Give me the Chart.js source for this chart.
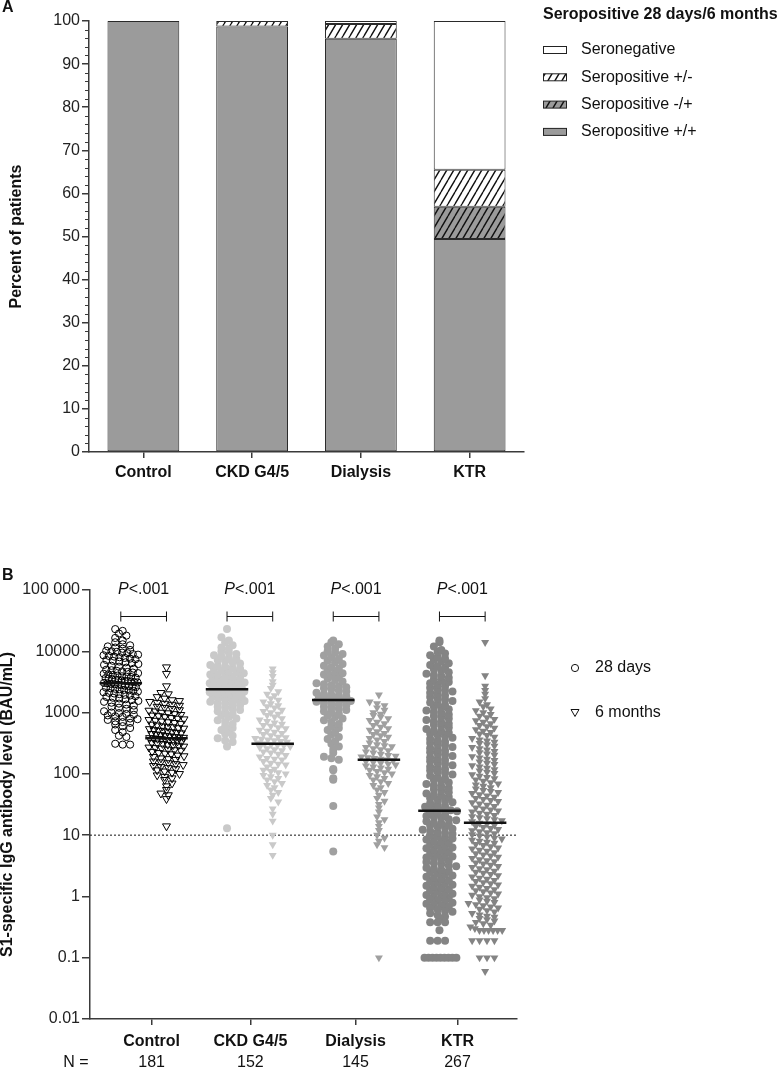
<!DOCTYPE html>
<html>
<head>
<meta charset="utf-8">
<script src="https://cdn.jsdelivr.net/npm/chart.js@4.4.0/dist/chart.umd.min.js"></script>
<style>
  body { margin: 0; background: #fff; }
  #chartA { position: absolute; left: 0; top: 0; }
  #chartB { position: absolute; left: 0; top: 500px; }
</style>
</head>
<body>
<canvas id="chartA" width="777" height="500"></canvas>
<canvas id="chartB" width="777" height="570"></canvas>
<script>
"use strict";

// ---- panel A data (percent of patients) ----
var groups = ['Control', 'CKD G4/5', 'Dialysis', 'KTR'];
var posPos = [100, 98.7, 95.9, 49.4];   // seropositive +/+
var negPos = [0, 0, 0, 7.5];            // seropositive -/+
var posNeg = [0, 1.3, 3.4, 8.6];        // seropositive +/-
var seroNeg = [0, 0, 0.7, 34.5];        // seronegative
var legendTitleA = 'Seropositive 28 days/6 months';

// ---- panel B data (S1-specific IgG, BAU/mL) ----
var nCounts = [181, 152, 145, 267];
var medians28 = [3000, 2400, 1600, 25];
var medians6 = [380, 310, 170, 16];
var cutoff = 10;
var pLabels = ['<.001', '<.001', '<.001', '<.001'];
var yTickVals = [0.01, 0.1, 1, 10, 100, 1000, 10000, 100000];
var yTickLabels = ['0.01', '0.1', '1', '10', '100', '1000', '10000', '100 000'];

var ctl28 = [23000, 21500, 19500, 18000, 16500, 15000, 14000, 13000, 12500, 12000, 11500, 11000, 10500, 10200, 10000,
  9800, 9500, 9300, 9000, 8800, 8600, 8400, 8200, 8000, 7800, 7600, 7400, 7200, 7000, 6800, 6600, 6400, 6200, 6000,
  5800, 5600, 5400, 5200, 5000, 4900, 4800, 4700, 4600, 4500, 4400, 4300, 4200, 4100, 4000, 3900, 3850, 3800, 3700,
  3650, 3600, 3500, 3450, 3400, 3350, 3300, 3250, 3200, 3150, 3100, 3050, 3000, 2950, 2900, 2850, 2800, 2750, 2700,
  2650, 2600, 2550, 2500, 2450, 2400, 2350, 2300, 2250, 2200, 2150, 2100, 2050, 2000, 1950, 1900, 1850, 1800, 1750,
  1700, 1650, 1600, 1550, 1500, 1450, 1400, 1350, 1300, 1250, 1200, 1150, 1100, 1050, 1000, 980, 950, 920, 900, 870,
  850, 800, 780, 760, 720, 700, 680, 640, 600, 560, 520, 480, 420, 400, 310, 300, 300];
var ctl6 = [5500, 4300, 2700, 2100, 2000, 1800, 1700, 1600, 1550, 1500, 1450, 1400, 1350, 1300, 1250, 1200, 1150, 1100,
  1080, 1050, 1000, 980, 950, 920, 900, 880, 850, 820, 800, 780, 760, 740, 720, 700, 680, 660, 640, 620, 600, 590, 580,
  560, 550, 540, 520, 510, 500, 490, 480, 470, 460, 450, 440, 430, 420, 410, 400, 395, 390, 385, 380, 375, 370, 360,
  350, 345, 340, 330, 320, 315, 310, 300, 295, 290, 280, 270, 265, 260, 250, 245, 240, 230, 220, 215, 210, 200, 195,
  190, 180, 175, 170, 160, 155, 150, 145, 140, 135, 130, 125, 120, 115, 110, 105, 100, 95, 90, 85, 80, 70, 63, 55, 48,
  45, 39, 14];
var ckd28 = [23000, 17000, 15000, 14000, 12500, 11500, 11000, 10000, 9500, 9000, 8600, 8200, 7800, 7500, 7200, 6900,
  6600, 6300, 6000, 5800, 5600, 5400, 5200, 5000, 4800, 4700, 4500, 4400, 4200, 4100, 3900, 3800, 3700, 3600, 3500,
  3400, 3300, 3200, 3100, 3000, 2900, 2850, 2800, 2700, 2650, 2600, 2500, 2450, 2400, 2350, 2300, 2250, 2200, 2150,
  2100, 2050, 2000, 1950, 1900, 1850, 1800, 1750, 1700, 1650, 1600, 1550, 1500, 1450, 1400, 1350, 1300, 1250, 1200,
  1150, 1100, 1050, 1000, 950, 900, 850, 800, 750, 700, 650, 600, 560, 520, 480, 450, 420, 380, 350, 330, 280, 13];
var ckd6 = [5200, 4500, 3900, 3200, 2800, 2500, 2200, 2000, 1900, 1700, 1600, 1500, 1400, 1300, 1250, 1200, 1100, 1050,
  1000, 950, 900, 850, 800, 760, 720, 680, 650, 620, 600, 570, 550, 520, 500, 480, 460, 440, 420, 400, 390, 380, 370,
  360, 350, 340, 330, 320, 310, 300, 295, 290, 280, 270, 260, 250, 240, 230, 220, 210, 200, 190, 180, 175, 170, 160,
  150, 145, 140, 130, 120, 115, 110, 105, 100, 95, 90, 85, 80, 75, 70, 65, 60, 55, 50, 45, 40, 35, 27, 22, 17, 10, 7,
  4.7];
var dia28 = [15000, 14000, 13000, 12000, 11000, 10000, 9500, 9000, 8500, 8000, 7500, 7000, 6600, 6200, 5800, 5500, 5200,
  4900, 4600, 4400, 4200, 4000, 3800, 3600, 3400, 3200, 3000, 2900, 2800, 2700, 2600, 2500, 2400, 2300, 2200, 2100,
  2000, 1950, 1900, 1850, 1800, 1750, 1700, 1650, 1600, 1550, 1500, 1450, 1400, 1350, 1300, 1250, 1200, 1150, 1100,
  1050, 1000, 950, 900, 850, 800, 750, 700, 650, 600, 560, 520, 480, 440, 400, 370, 340, 310, 280, 250, 220, 190, 180,
  170, 120, 115, 85, 80, 30, 5.4];
var dia6 = [1950, 1500, 1400, 1300, 1200, 1100, 1000, 950, 900, 850, 800, 750, 700, 660, 620, 580, 550, 520, 490, 460,
  440, 420, 400, 380, 360, 340, 320, 300, 290, 280, 270, 260, 250, 240, 230, 220, 210, 200, 195, 190, 185, 180, 175,
  170, 165, 160, 155, 150, 145, 140, 135, 130, 125, 120, 115, 110, 105, 100, 95, 90, 85, 80, 75, 70, 65, 60, 55, 50, 45,
  40, 36, 32, 28, 24, 20, 18, 16, 14, 12, 10, 9, 8, 7, 6.3, 0.1];
var ktr28 = [15000, 14000, 12000, 10500, 9800, 9200, 8600, 8100, 7600, 7200, 6800, 6400, 6000, 5700, 5400, 5100, 4800,
  4550, 4300, 4100, 3900, 3700, 3500, 3300, 3150, 3000, 2850, 2700, 2550, 2400, 2300, 2200, 2100, 2000, 1900, 1800,
  1700, 1620, 1540, 1460, 1390, 1320, 1250, 1190, 1130, 1080, 1030, 980, 930, 880, 840, 800, 760, 720, 690, 660, 630,
  600, 570, 540, 510, 490, 470, 450, 430, 410, 390, 370, 350, 335, 320, 305, 290, 275, 262, 250, 238, 226, 215, 205,
  195, 185, 176, 168, 160, 152, 145, 138, 131, 125, 119, 113, 108, 103, 98, 93, 88, 84, 80, 76, 72, 68, 65, 62, 59, 56,
  53, 50, 48, 46, 44, 42, 40, 38, 36, 34.5, 33, 31.5, 30, 29, 28, 27, 26, 25.5,
  24.5, 23.5, 22.5, 21.5, 20.5, 19.7, 19, 18.2, 17.5, 16.8, 16.1, 15.5, 14.9, 14.3, 13.7, 13.2, 12.7, 12.2, 11.7, 11.2,
  10.8, 10.4, 10, 9.6, 9.2, 8.8, 8.5, 8.1, 7.8, 7.5, 7.2, 6.9, 6.6, 6.3, 6.1, 5.8, 5.6, 5.4, 5.1, 4.9, 4.7, 4.5, 4.3,
  4.15, 4, 3.8, 3.65, 3.5, 3.35, 3.2, 3.1, 2.95, 2.85, 2.7, 2.6, 2.5, 2.4, 2.3, 2.2, 2.1, 2, 1.92, 1.84, 1.76, 1.69,
  1.62, 1.55, 1.49, 1.43, 1.37, 1.31, 1.26, 1.21, 1.16, 1.11, 1.06, 1.02, 0.98, 0.94, 0.9, 0.86, 0.83, 0.79, 0.76, 0.73,
  0.7, 0.67, 0.64, 0.61, 0.58, 0.56, 0.53, 0.5, 0.47, 0.44, 0.38, 0.38, 0.38, 0.28, 0.19, 0.19, 0.19, 0.1, 0.1, 0.1,
  0.1, 0.1, 0.1, 0.1, 0.1, 0.1];
var ktr6 = [14000, 4000, 2700, 2300, 2000, 1700, 1500, 1350, 1250, 1150, 1080, 1000, 940, 880, 830, 780, 740, 700, 660,
  620, 590, 560, 530, 500, 475, 450, 425, 400, 380, 360, 345, 330, 315, 300, 285, 270, 258, 246, 234, 222, 212, 202,
  192, 183, 174, 166, 158, 150, 143, 136, 130, 124, 118, 112, 107, 102, 97, 92, 88, 84, 80, 76, 72, 69, 66, 63, 60, 57,
  54, 52, 50, 48, 46, 44, 42, 40, 38.5, 37, 35.5, 34, 32.5, 31, 29.5, 28, 27, 26, 25, 24, 23, 22, 21, 20.2, 19.4, 18.7,
  18, 17.3, 16.6, 15.8, 15.2, 14.6, 14, 13.4, 12.9, 12.4, 11.9, 11.4, 11, 10.6, 10.2, 9.8, 9.4, 9, 8.7, 8.3, 8, 7.7,
  7.4, 7.1, 6.8, 6.5, 6.2, 6, 5.7, 5.5, 5.2, 5, 4.8, 4.6, 4.4, 4.2, 4, 3.85, 3.7, 3.55, 3.4, 3.25, 3.1, 3, 2.85, 2.75,
  2.6, 2.5, 2.4, 2.3, 2.2, 2.1, 2, 1.92, 1.84, 1.76, 1.69, 1.62, 1.55, 1.48, 1.42, 1.36, 1.3, 1.25, 1.2, 1.15, 1.1,
  1.05, 1, 0.96, 0.92, 0.88, 0.84, 0.8, 0.77, 0.74, 0.71, 0.68, 0.65, 0.62, 0.59, 0.56, 0.53, 0.5, 0.48, 0.46, 0.44,
  0.42, 0.4, 0.38, 0.36, 0.34, 0.32, 0.3, 0.28, 0.28, 0.28, 0.28, 0.28, 0.28, 0.19, 0.19, 0.19, 0.19, 0.1, 0.1, 0.1,
  0.06];

// ---- layout / style ----
var fam = "'Liberation Sans', Arial, sans-serif";
Chart.defaults.font.family = fam;
Chart.defaults.color = '#111';
var axisColor = '#3a3a3a';
var barGray = '#9b9b9b';
var catPos = [0.58, 1.51, 2.5, 3.46];   // x of the group labels
var colOffset = [0.29, 0.72];         // x of the two columns inside a group
var groupColors = ['#000000', '#c9c9c9', '#a0a0a0', '#848484'];

function hatch(bg) {
  var c = document.createElement('canvas');
  c.width = 7; c.height = 12;
  var x = c.getContext('2d');
  x.fillStyle = bg;
  x.fillRect(0, 0, 7, 12);
  x.strokeStyle = '#111';
  x.lineWidth = 1.4;
  x.beginPath();
  for (var k = -1; k <= 1; k++) {
    x.moveTo(k * 7, 12);
    x.lineTo(k * 7 + 7, 0);
  }
  x.stroke();
  return x.createPattern(c, 'repeat');
}

// spread points of one column sideways, GraphPad style rows
function swarm(values, center) {
  var rows = {};
  values.forEach(function (v) {
    var k = Math.round(Math.log10(v) / 0.075);
    (rows[k] = rows[k] || []).push(v);
  });
  var pts = [];
  Object.keys(rows).forEach(function (k) {
    var r = rows[k], n = r.length;
    var step = n > 1 ? Math.min(0.07, 0.3 / (n - 1)) : 0;
    var shift = (n > 1 && Math.abs(k % 2) === 1) ? step / 2 : 0;
    r.forEach(function (v, i) {
      pts.push({ x: center + (i - (n - 1) / 2) * step + shift - step / 4, y: v });
    });
  });
  return pts;
}

// ---------------- panel A ----------------
var panelAExtras = {
  id: 'panelAExtras',
  afterDraw: function (chart) {
    var ctx = chart.ctx, y = chart.scales.y;
    ctx.save();
    ctx.strokeStyle = axisColor;
    ctx.lineWidth = 1;
    for (var v = 0; v <= 100; v += 2) {
      if (v % 10 === 0) continue;
      var py = Math.round(y.getPixelForValue(v)) + 0.5;
      ctx.beginPath();
      ctx.moveTo(y.right - 4, py);
      ctx.lineTo(y.right, py);
      ctx.stroke();
    }
    ctx.fillStyle = '#111';
    ctx.textBaseline = 'middle';
    ctx.textAlign = 'left';
    ctx.font = 'bold 16px ' + fam;
    ctx.fillText('A', 2, 8);
    ctx.fillText(legendTitleA, 543, 15);
    ctx.font = '16px ' + fam;
    var items = chart.data.datasets.slice().reverse();
    items.forEach(function (ds, i) {
      var ly = 50 + i * 27.3;
      ctx.fillStyle = ds.backgroundColor;
      ctx.fillRect(543, ly - 3.5, 23, 7);
      ctx.strokeStyle = '#222';
      ctx.strokeRect(543.5, ly - 3.5, 23, 7);
      ctx.fillStyle = '#111';
      ctx.fillText(ds.label, 581, ly);
    });
    ctx.restore();
  }
};

new Chart(document.getElementById('chartA'), {
  type: 'bar',
  data: {
    labels: groups,
    datasets: [
      { label: 'Seropositive +/+', data: posPos, backgroundColor: barGray },
      { label: 'Seropositive -/+', data: negPos, backgroundColor: hatch(barGray) },
      { label: 'Seropositive +/-', data: posNeg, backgroundColor: hatch('#ffffff') },
      { label: 'Seronegative', data: seroNeg, backgroundColor: '#ffffff' }
    ]
  },
  options: {
    responsive: false,
    animation: false,
    devicePixelRatio: 1,
    events: [],
    layout: { padding: { top: 21, right: 253, left: 0, bottom: 0 } },
    datasets: { bar: { borderColor: '#2a2a2a', borderWidth: 1, borderSkipped: false, barPercentage: 0.66, categoryPercentage: 1 } },
    plugins: { legend: { display: false }, tooltip: { enabled: false } },
    scales: {
      x: {
        stacked: true,
        grid: { drawOnChartArea: false, offset: false, tickLength: 6, color: axisColor, lineWidth: 1.5 },
        border: { color: axisColor, width: 1.5 },
        ticks: { font: { size: 16, weight: 'bold' }, color: '#111', padding: 5, maxRotation: 0 },
        afterFit: function (s) { s.height = 48; }
      },
      y: {
        stacked: true, min: 0, max: 100,
        ticks: { stepSize: 10, font: { size: 16 }, color: '#222', padding: 2 },
        grid: { drawOnChartArea: false, tickLength: 7, color: axisColor, lineWidth: 1.5 },
        border: { color: axisColor, width: 1.5 },
        title: { display: true, text: 'Percent of patients', font: { size: 16, weight: 'bold', lineHeight: 1 }, padding: { top: 9, bottom: 0 }, color: '#111' },
        afterFit: function (s) { s.width = 89; }
      }
    }
  },
  plugins: [panelAExtras]
});

// ---------------- panel B ----------------
var series = [ctl28, ctl6, ckd28, ckd6, dia28, dia6, ktr28, ktr6];
var datasetsB = [];
series.forEach(function (vals, i) {
  var g = Math.floor(i / 2), c = i % 2;
  var col = groupColors[g];
  var open = g === 0;
  datasetsB.push({
    type: 'scatter',
    data: swarm(vals, g + colOffset[c]),
    pointStyle: c === 0 ? 'circle' : 'triangle',
    pointRotation: c === 0 ? 0 : 180,
    pointRadius: c === 0 ? (open ? 3.6 : 4) : 4.6,
    pointBackgroundColor: open ? 'rgba(0,0,0,0)' : col,
    pointBorderColor: col,
    pointBorderWidth: open ? 1 : 0,
    order: 2
  });
});
groups.forEach(function (gname, g) {
  [medians28[g], medians6[g]].forEach(function (m, c) {
    var cx = g + colOffset[c];
    datasetsB.push({
      type: 'line',
      data: [{ x: cx - 0.2, y: m }, { x: cx + 0.2, y: m }],
      borderColor: '#111', borderWidth: 2.5, pointRadius: 0, order: 0
    });
  });
});
datasetsB.push({
  type: 'line',
  data: [{ x: 0, y: cutoff }, { x: 4.02, y: cutoff }],
  borderColor: '#111', borderWidth: 1, borderDash: [2, 2], pointRadius: 0, order: 3
});

var panelBExtras = {
  id: 'panelBExtras',
  afterDraw: function (chart) {
    var ctx = chart.ctx, xs = chart.scales.x, ys = chart.scales.y, area = chart.chartArea;
    ctx.save();
    ctx.fillStyle = '#111';
    ctx.strokeStyle = '#111';
    ctx.lineWidth = 1;
    ctx.textBaseline = 'middle';
    var by = Math.round(ys.getPixelForValue(37000)) + 0.5;
    var ty = ys.getPixelForValue(100000);
    for (var g = 0; g < groups.length; g++) {
      var x1 = xs.getPixelForValue(g + colOffset[0]);
      var x2 = xs.getPixelForValue(g + colOffset[1]);
      ctx.beginPath();
      ctx.moveTo(x1, by); ctx.lineTo(x2, by);
      ctx.moveTo(x1, by - 5); ctx.lineTo(x1, by + 5);
      ctx.moveTo(x2, by - 5); ctx.lineTo(x2, by + 5);
      ctx.stroke();
      ctx.font = 'italic 16px ' + fam;
      var wP = ctx.measureText('P').width;
      ctx.font = '16px ' + fam;
      var wR = ctx.measureText(pLabels[g]).width;
      var sx = (x1 + x2) / 2 - (wP + wR) / 2;
      ctx.textAlign = 'left';
      ctx.font = 'italic 16px ' + fam;
      ctx.fillText('P', sx, ty);
      ctx.font = '16px ' + fam;
      ctx.fillText(pLabels[g], sx + wP, ty);
    }
    // N row
    ctx.textAlign = 'center';
    ctx.font = '16px ' + fam;
    ctx.fillText('N =', 76, area.bottom + 44);
    nCounts.forEach(function (n, i) {
      ctx.fillText(String(n), xs.getPixelForValue(catPos[i]), area.bottom + 44);
    });
    // legend
    ctx.textAlign = 'left';
    ctx.beginPath();
    ctx.arc(575, 168, 3.6, 0, Math.PI * 2);
    ctx.stroke();
    ctx.beginPath();
    ctx.moveTo(571, 209.5); ctx.lineTo(579, 209.5); ctx.lineTo(575, 216.5); ctx.closePath();
    ctx.stroke();
    ctx.fillText('28 days', 595, 168);
    ctx.fillText('6 months', 595, 213);
    ctx.font = 'bold 16px ' + fam;
    ctx.fillText('B', 2, 76);
    ctx.restore();
  }
};

new Chart(document.getElementById('chartB'), {
  type: 'scatter',
  data: { datasets: datasetsB },
  options: {
    responsive: false,
    animation: false,
    devicePixelRatio: 1,
    events: [],
    layout: { padding: { top: 90, right: 260, left: 0, bottom: 0 } },
    plugins: { legend: { display: false }, tooltip: { enabled: false } },
    scales: {
      x: {
        type: 'linear', min: 0, max: 4.02,
        afterBuildTicks: function (s) { s.ticks = catPos.map(function (v) { return { value: v }; }); },
        ticks: {
          autoSkip: false, maxRotation: 0, padding: 7,
          font: { size: 16, weight: 'bold' }, color: '#111',
          callback: function (v, i) { return groups[i]; }
        },
        grid: { drawOnChartArea: false, tickLength: 6, color: axisColor, lineWidth: 1.5 },
        border: { color: axisColor, width: 1.5 },
        afterFit: function (s) { s.height = 51; }
      },
      y: {
        type: 'logarithmic', min: 0.01, max: 100000,
        afterBuildTicks: function (s) { s.ticks = yTickVals.map(function (v) { return { value: v }; }); },
        ticks: {
          autoSkip: false, padding: 2, font: { size: 16 }, color: '#222',
          callback: function (v, i) { return yTickLabels[i]; }
        },
        grid: { drawOnChartArea: false, tickLength: 8, color: axisColor, lineWidth: 1.5 },
        border: { color: axisColor, width: 1.5 },
        title: { display: true, text: 'S1-specific IgG antibody level (BAU/mL)', font: { size: 16, weight: 'bold', lineHeight: 1 }, padding: { top: 0, bottom: 0 }, color: '#111' },
        afterFit: function (s) { s.width = 90; }
      }
    }
  },
  plugins: [panelBExtras]
});
</script>
</body>
</html>
